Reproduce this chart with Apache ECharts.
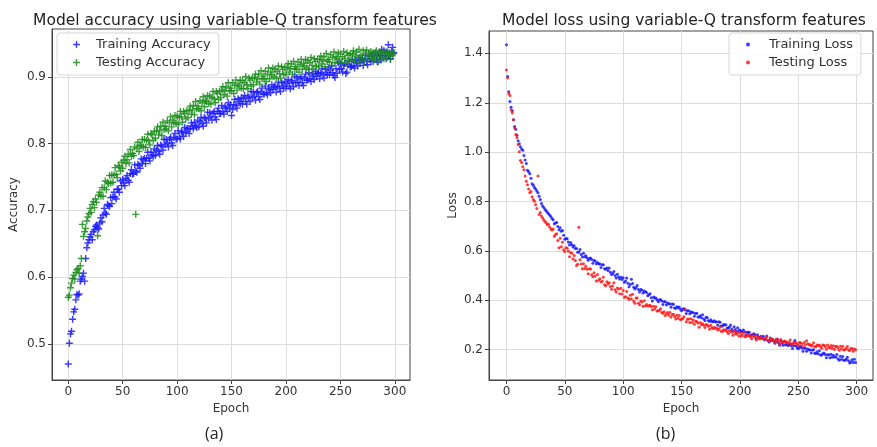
<!DOCTYPE html>
<html>
<head>
<meta charset="utf-8">
<script src="https://cdn.jsdelivr.net/npm/echarts@6/dist/echarts.min.js"></script>
<style>
  html, body { margin: 0; padding: 0; background: #fff; }
  #chart { width: 877px; height: 447px; }
</style>
</head>
<body>
<div id="chart"></div>
<script>
// Training history of a classifier trained on variable-Q transform features (300 epochs)

const epochs = Array.from({ length: 300 }, (_, i) => i);

const trainAccuracy = [
  .470,.501,.515,.519,.537,.548,.552,.566,.574,.573,
  .575,.594,.597,.601,.606,.594,.628,.644,.651,.656,
  .660,.664,.656,.668,.671,.676,.678,.674,.672,.681,
  .689,.683,.693,.703,.696,.694,.709,.707,.706,.719,
  .710,.720,.727,.720,.717,.732,.731,.727,.744,.737,
  .746,.741,.737,.748,.752,.745,.742,.755,.761,.754,
  .755,.768,.759,.757,.769,.767,.763,.777,.770,.776,
  .778,.770,.778,.787,.778,.774,.787,.783,.781,.792,
  .782,.790,.797,.788,.784,.798,.796,.790,.806,.798,
  .806,.800,.795,.806,.809,.801,.797,.809,.815,.807,
  .807,.819,.810,.807,.818,.816,.811,.824,.817,.822,
  .823,.815,.822,.831,.826,.822,.832,.827,.824,.835,
  .825,.833,.839,.830,.826,.839,.837,.831,.847,.838,
  .846,.840,.835,.845,.848,.840,.836,.848,.853,.845,
  .845,.857,.848,.844,.855,.853,.848,.861,.853,.858,
  .842,.851,.858,.866,.857,.853,.867,.863,.860,.869,
  .859,.867,.872,.863,.859,.871,.869,.863,.878,.869,
  .877,.871,.865,.876,.878,.870,.866,.877,.883,.874,
  .874,.886,.876,.873,.883,.881,.876,.888,.881,.885,
  .886,.877,.885,.892,.883,.878,.891,.886,.883,.893,
  .883,.890,.896,.886,.882,.894,.892,.885,.901,.891,
  .899,.892,.887,.897,.900,.891,.887,.898,.904,.895,
  .895,.906,.897,.893,.904,.901,.896,.908,.901,.905,
  .906,.897,.905,.912,.903,.898,.911,.906,.903,.913,
  .903,.910,.916,.906,.902,.899,.912,.905,.921,.911,
  .919,.912,.907,.917,.920,.905,.907,.918,.924,.915,
  .915,.926,.917,.913,.924,.921,.916,.928,.921,.925,
  .926,.917,.925,.932,.923,.918,.931,.926,.923,.933,
  .923,.930,.936,.926,.922,.934,.932,.925,.941,.931,
  .939,.932,.927,.937,.948,.931,.927,.938,.944,.936
];

const testAccuracy = [
  .570,.573,.584,.591,.598,.603,.597,.607,.611,.613,
  .606,.617,.628,.679,.661,.668,.673,.684,.690,.695,
  .703,.697,.709,.713,.704,.717,.712,.662,.723,.727,
  .721,.734,.721,.734,.744,.731,.742,.740,.752,.741,
  .753,.742,.753,.764,.754,.749,.767,.765,.759,.772,
  .763,.775,.781,.770,.776,.784,.771,.791,.781,.785,
  .782,.795,.694,.793,.802,.788,.798,.796,.806,.795,
  .806,.794,.805,.814,.804,.798,.815,.813,.805,.818,
  .808,.819,.825,.813,.819,.826,.812,.832,.821,.826,
  .822,.834,.819,.831,.840,.825,.835,.832,.842,.830,
  .841,.829,.839,.848,.840,.832,.848,.845,.837,.849,
  .839,.850,.856,.844,.850,.857,.843,.863,.852,.856,
  .852,.864,.849,.861,.870,.855,.865,.863,.872,.860,
  .871,.859,.869,.878,.867,.861,.878,.875,.866,.878,
  .869,.880,.885,.873,.879,.885,.871,.891,.879,.883,
  .879,.891,.875,.887,.895,.880,.889,.886,.895,.883,
  .894,.882,.891,.900,.888,.882,.898,.895,.886,.898,
  .888,.899,.904,.892,.897,.904,.889,.909,.897,.901,
  .897,.908,.893,.904,.913,.897,.907,.903,.913,.900,
  .911,.898,.908,.916,.905,.898,.915,.911,.903,.914,
  .904,.914,.920,.907,.912,.919,.904,.923,.912,.915,
  .911,.922,.907,.918,.926,.911,.920,.916,.926,.913,
  .924,.911,.921,.929,.917,.911,.927,.923,.915,.926,
  .916,.926,.931,.919,.924,.930,.915,.935,.923,.926,
  .922,.933,.917,.929,.937,.921,.930,.927,.936,.923,
  .934,.921,.930,.938,.927,.920,.936,.932,.923,.934,
  .924,.934,.939,.926,.931,.937,.922,.941,.929,.932,
  .928,.939,.923,.934,.940,.926,.935,.931,.938,.927,
  .936,.925,.934,.939,.930,.923,.937,.935,.926,.936,
  .927,.936,.937,.929,.934,.936,.926,.938,.933,.935
];

const trainLoss = [
  1.435,1.306,1.245,1.205,1.182,1.168,1.131,1.104,1.093,1.068,
  1.046,1.034,1.022,1.013,1.008,0.986,0.968,0.954,0.927,0.921,
  0.913,0.894,0.872,0.866,0.857,0.851,0.843,0.836,0.821,0.808,
  0.792,0.782,0.776,0.768,0.763,0.757,0.751,0.746,0.739,0.731,
  0.726,0.710,0.713,0.715,0.699,0.686,0.694,0.680,0.683,0.664,
  0.647,0.650,0.649,0.636,0.624,0.634,0.625,0.616,0.621,0.610,
  0.610,0.595,0.596,0.606,0.586,0.575,0.591,0.577,0.581,0.572,
  0.562,0.569,0.571,0.565,0.550,0.561,0.559,0.548,0.553,0.548,
  0.547,0.533,0.544,0.544,0.528,0.526,0.531,0.521,0.531,0.514,
  0.505,0.509,0.517,0.501,0.490,0.506,0.495,0.486,0.494,0.484,
  0.491,0.473,0.478,0.490,0.469,0.455,0.464,0.485,0.468,0.453,
  0.446,0.452,0.460,0.444,0.434,0.444,0.442,0.430,0.438,0.435,
  0.432,0.419,0.423,0.427,0.411,0.397,0.414,0.410,0.410,0.402,
  0.394,0.401,0.403,0.397,0.383,0.394,0.394,0.381,0.389,0.386,
  0.385,0.372,0.385,0.384,0.369,0.368,0.374,0.370,0.373,0.364,
  0.358,0.365,0.366,0.361,0.347,0.358,0.358,0.346,0.354,0.351,
  0.350,0.336,0.347,0.348,0.333,0.333,0.338,0.330,0.342,0.324,
  0.318,0.332,0.330,0.317,0.315,0.321,0.314,0.313,0.317,0.313,
  0.312,0.299,0.313,0.311,0.296,0.296,0.302,0.300,0.301,0.287,
  0.289,0.292,0.300,0.284,0.275,0.293,0.282,0.274,0.289,0.277,
  0.280,0.274,0.275,0.280,0.272,0.260,0.271,0.270,0.271,0.258,
  0.260,0.262,0.265,0.260,0.245,0.261,0.252,0.248,0.255,0.246,
  0.255,0.239,0.245,0.256,0.238,0.231,0.248,0.236,0.242,0.235,
  0.226,0.234,0.243,0.227,0.218,0.236,0.226,0.218,0.233,0.220,
  0.223,0.217,0.219,0.224,0.216,0.205,0.216,0.237,0.216,0.208,
  0.204,0.210,0.213,0.207,0.194,0.206,0.207,0.194,0.203,0.200,
  0.199,0.187,0.199,0.200,0.186,0.185,0.192,0.184,0.196,0.179,
  0.179,0.184,0.187,0.181,0.168,0.180,0.180,0.168,0.182,0.170,
  0.178,0.171,0.171,0.181,0.164,0.157,0.174,0.162,0.173,0.157,
  0.157,0.162,0.170,0.155,0.146,0.150,0.159,0.148,0.162,0.148
];

const testLoss = [
  1.333,1.301,1.236,1.229,1.172,1.158,1.131,1.098,1.071,1.059,
  1.031,1.002,0.966,0.958,0.941,0.929,0.903,0.882,0.868,0.851,
  0.836,0.841,0.819,0.808,0.801,0.787,0.772,0.903,0.748,0.756,
  0.741,0.733,0.725,0.719,0.714,0.706,0.708,0.697,0.689,0.685,
  0.689,0.660,0.667,0.670,0.642,0.613,0.651,0.617,0.635,0.605,
  0.598,0.613,0.611,0.599,0.576,0.593,0.591,0.567,0.582,0.561,
  0.541,0.546,0.696,0.564,0.547,0.528,0.548,0.529,0.538,0.526,
  0.508,0.528,0.527,0.504,0.496,0.512,0.499,0.478,0.505,0.481,
  0.487,0.474,0.477,0.493,0.463,0.459,0.475,0.466,0.471,0.456,
  0.445,0.458,0.471,0.443,0.434,0.450,0.446,0.427,0.449,0.426,
  0.440,0.413,0.415,0.436,0.410,0.404,0.421,0.405,0.425,0.396,
  0.388,0.410,0.409,0.388,0.382,0.397,0.393,0.376,0.398,0.378,
  0.383,0.377,0.378,0.380,0.375,0.362,0.376,0.365,0.374,0.357,
  0.358,0.360,0.366,0.351,0.348,0.354,0.339,0.346,0.351,0.340,
  0.351,0.333,0.343,0.344,0.335,0.324,0.340,0.328,0.339,0.322,
  0.323,0.327,0.334,0.365,0.313,0.323,0.324,0.310,0.325,0.310,
  0.320,0.303,0.315,0.314,0.308,0.291,0.310,0.301,0.305,0.299,
  0.290,0.302,0.300,0.295,0.283,0.299,0.289,0.286,0.291,0.287,
  0.287,0.280,0.283,0.292,0.275,0.274,0.281,0.278,0.280,0.273,
  0.266,0.278,0.276,0.271,0.259,0.276,0.266,0.263,0.269,0.256,
  0.268,0.255,0.261,0.270,0.254,0.253,0.260,0.257,0.259,0.252,
  0.245,0.257,0.256,0.251,0.239,0.256,0.247,0.244,0.250,0.246,
  0.247,0.245,0.243,0.253,0.236,0.236,0.243,0.241,0.242,0.236,
  0.229,0.242,0.240,0.235,0.224,0.241,0.232,0.229,0.235,0.231,
  0.232,0.226,0.229,0.239,0.223,0.222,0.229,0.227,0.229,0.223,
  0.218,0.229,0.228,0.223,0.212,0.229,0.220,0.236,0.224,0.220,
  0.221,0.215,0.218,0.228,0.212,0.212,0.219,0.217,0.219,0.213,
  0.206,0.219,0.218,0.213,0.202,0.219,0.210,0.208,0.217,0.206,
  0.216,0.201,0.213,0.214,0.207,0.198,0.214,0.203,0.214,0.199,
  0.201,0.205,0.213,0.199,0.197,0.205,0.205,0.194,0.203,0.200
];

const epochTicks = [0, 50, 100, 150, 200, 250, 300];
const accuracyTicks = [0.5, 0.6, 0.7, 0.8, 0.9];
const lossTicks = [0.2, 0.4, 0.6, 0.8, 1.0, 1.2, 1.4];

const FONT = 'DejaVu Sans';
const TEXT = '#333';
const PLUS = 'path://M3.2,0H4.8V3.2H8V4.8H4.8V8H3.2V4.8H0V3.2H3.2Z';

const pair = (ys) => epochs.map((e, i) => [e, ys[i]]);

function xAxisFor(gridIndex) {
  return {
    type: 'value', gridIndex,
    min: -14.95, max: 313.95,
    name: 'Epoch', nameLocation: 'middle', nameGap: 20,
    nameTextStyle: { fontFamily: FONT, fontSize: 12, color: TEXT },
    axisLine: { show: true, onZero: false, lineStyle: { color: '#444', width: 1 } },
    axisTick: { show: true, length: 4, customValues: epochTicks, lineStyle: { color: '#444' } },
    axisLabel: { customValues: epochTicks, margin: 6, fontFamily: FONT, fontSize: 12, color: TEXT },
    splitLine: { show: true, lineStyle: { color: '#dcdcdc', width: 1 } }
  };
}

function yAxisFor(gridIndex, min, max, ticks, name, gap) {
  return {
    type: 'value', gridIndex, min, max,
    name, nameLocation: 'middle', nameGap: gap,
    nameTextStyle: { fontFamily: FONT, fontSize: 12, color: TEXT },
    axisLine: { show: true, onZero: false, lineStyle: { color: '#444', width: 1 } },
    axisTick: { show: true, length: 4, customValues: ticks, lineStyle: { color: '#444' } },
    axisLabel: {
      customValues: ticks, margin: 6, fontFamily: FONT, fontSize: 12, color: TEXT,
      formatter: (v) => v.toFixed(1)
    },
    splitLine: { show: true, lineStyle: { color: '#dcdcdc', width: 1 } }
  };
}

const legendBase = {
  orient: 'vertical',
  backgroundColor: 'rgba(255,255,255,0.85)',
  borderColor: '#d6d6d6', borderWidth: 1, borderRadius: 3,
  itemGap: 3,
  textStyle: { fontFamily: FONT, fontSize: 13, color: TEXT, lineHeight: 15 }
};

const chart = echarts.init(document.getElementById('chart'), null, { renderer: 'canvas' });

chart.setOption({
  animation: false,
  backgroundColor: '#fff',
  title: [
    { text: 'Model accuracy using variable-Q transform features', left: 230, top: 8, textAlign: 'center',
      textStyle: { fontFamily: FONT, fontSize: 15.5, fontWeight: 'normal', color: '#222' } },
    { text: 'Model loss using variable-Q transform features', left: 679, top: 8, textAlign: 'center',
      textStyle: { fontFamily: FONT, fontSize: 15.5, fontWeight: 'normal', color: '#222' } }
  ],
  grid: [
    { left: 52, top: 29, width: 358, height: 351, show: true, borderColor: '#444', borderWidth: 1, backgroundColor: 'transparent' },
    { left: 489, top: 31, width: 384, height: 349, show: true, borderColor: '#444', borderWidth: 1, backgroundColor: 'transparent' }
  ],
  xAxis: [xAxisFor(0), xAxisFor(1)],
  yAxis: [
    yAxisFor(0, 0.446, 0.9715, accuracyTicks, 'Accuracy', 32),
    yAxisFor(1, 0.0775, 1.4905, lossTicks, 'Loss', 30)
  ],
  legend: [
    Object.assign({}, legendBase, {
      data: ['Training Accuracy', 'Testing Accuracy'],
      left: 57, top: 33, padding: [4, 8, 5, 16],
      itemWidth: 7, itemHeight: 7,
      textStyle: Object.assign({}, legendBase.textStyle, { padding: [0, 0, 0, 11] })
    }),
    Object.assign({}, legendBase, {
      data: ['Training Loss', 'Testing Loss'],
      left: 729, top: 33, padding: [4, 8, 5, 17],
      itemWidth: 4, itemHeight: 4,
      textStyle: Object.assign({}, legendBase.textStyle, { padding: [0, 0, 0, 14] })
    })
  ],
  series: [
    { name: 'Training Accuracy', type: 'scatter', xAxisIndex: 0, yAxisIndex: 0,
      symbol: PLUS, symbolSize: 7, data: pair(trainAccuracy),
      itemStyle: { color: '#1a1aff', opacity: 0.85 } },
    { name: 'Testing Accuracy', type: 'scatter', xAxisIndex: 0, yAxisIndex: 0,
      symbol: PLUS, symbolSize: 7, data: pair(testAccuracy),
      itemStyle: { color: '#1a8c1a', opacity: 0.85 } },
    { name: 'Training Loss', type: 'scatter', xAxisIndex: 1, yAxisIndex: 1,
      symbol: 'circle', symbolSize: 3, data: pair(trainLoss),
      itemStyle: { color: '#1a1aff', opacity: 0.85 } },
    { name: 'Testing Loss', type: 'scatter', xAxisIndex: 1, yAxisIndex: 1,
      symbol: 'circle', symbolSize: 3, data: pair(testLoss),
      itemStyle: { color: '#ff1a1a', opacity: 0.85 } }
  ],
  graphic: [
    { type: 'text', left: 205, top: 426,
      style: { text: '(a)', fontFamily: 'Open Sans', fontSize: 16, fill: '#222' } },
    { type: 'text', left: 656, top: 426,
      style: { text: '(b)', fontFamily: 'Open Sans', fontSize: 16, fill: '#222' } }
  ]
});
</script>
</body>
</html>
